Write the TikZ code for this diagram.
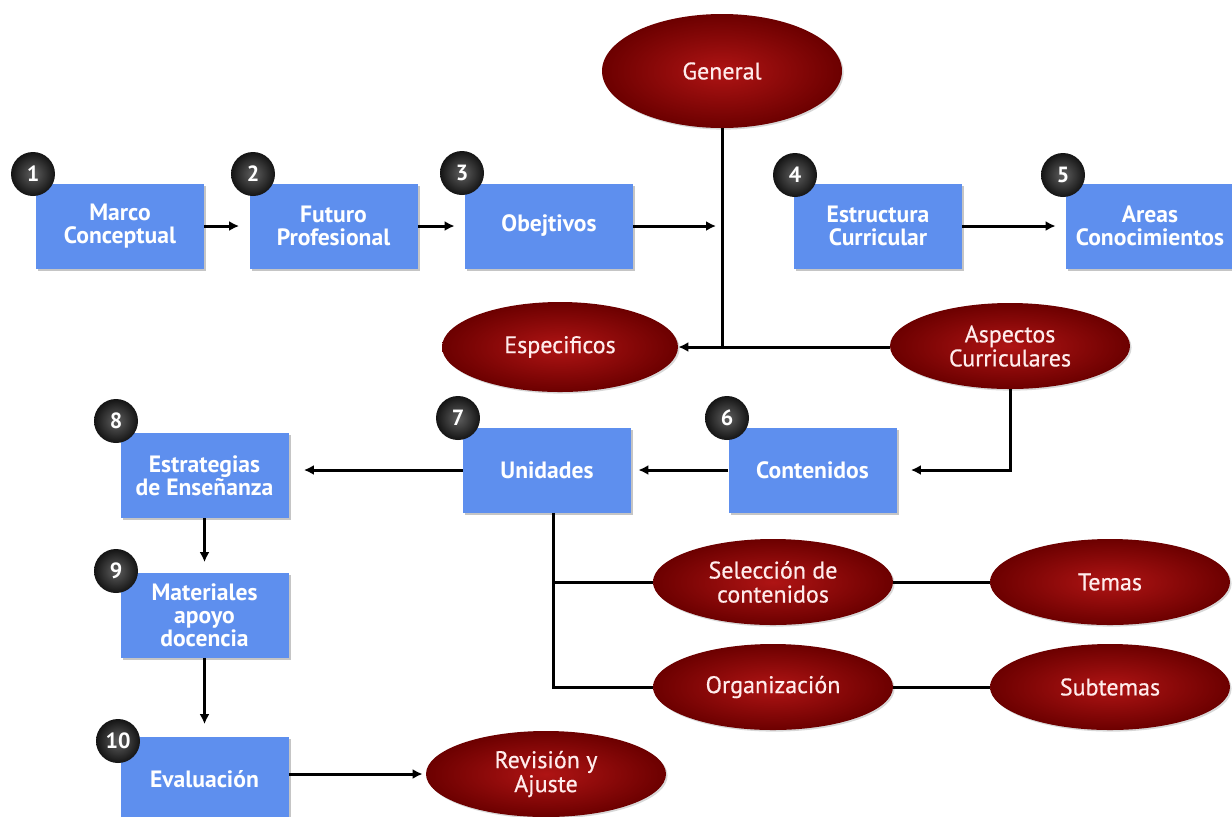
\documentclass[tikz,border=0pt]{standalone}
\usepackage{fontspec}
\setmainfont{PT Sans}
\newfontfamily\ellfont{PT Sans}[FakeBold=0.5]
\usetikzlibrary{shapes.geometric,arrows.meta,shadows}
\definecolor{boxblue}{RGB}{94,143,238}
\definecolor{ellin}{RGB}{175,20,20}
\definecolor{ellout}{RGB}{108,0,0}
\definecolor{badgein}{RGB}{95,95,95}
\definecolor{badgeout}{RGB}{20,20,20}
\definecolor{elltext}{RGB}{255,236,236}
\begin{document}
\begin{tikzpicture}[x=0.5pt,y=-0.5pt,
 bluebox/.style={rectangle, fill=boxblue, minimum width=84pt, minimum height=42.5pt, text=white,
   font=\bfseries\fontsize{11.8}{11.5}\selectfont, align=center, inner sep=1pt,
   drop shadow={shadow xshift=1.2pt, shadow yshift=-1.2pt, opacity=0.45}},
 redell/.style={ellipse, inner color=ellin, outer color=ellout, minimum width=120pt, minimum height=43pt,
   text=elltext, font=\ellfont\fontsize{12}{12}\selectfont, align=center, inner sep=0pt,
   drop shadow={shadow xshift=0.8pt, shadow yshift=-0.8pt, opacity=0.3}},
 badge/.style={circle, inner color=badgein, outer color=badgeout, minimum size=22pt, inner sep=0pt, text=white,
   font=\bfseries\fontsize{11}{11}\selectfont},
 conn/.style={line width=1.5pt, draw=black},
 arr/.style={conn, -{Latex[length=5pt,width=5pt]}}]
\fill[white] (0,0) rectangle (1232,816);
\useasboundingbox (0,0) rectangle (1232,816);

% blue boxes
\node[bluebox] (b1) at (120,226) {Marco\\Conceptual};
\node[bluebox] (b2) at (333.5,226) {Futuro\\Profesional};
\node[bluebox] (b3) at (549,226) {Obejtivos};
\node[bluebox] (b4) at (878,226) {Estructura\\Curricular};
\node[bluebox] (b5) at (1150,226) {Areas\\Conocimientos};
\node[bluebox] (b6) at (812.5,470) {Contenidos};
\node[bluebox] (b7) at (547,470) {Unidades};
\node[bluebox] (b8) at (204.5,475.5) {Estrategias\\de Enseñanza};
\node[bluebox] (b9) at (204.5,615) {Materiales\\apoyo\\docencia};
\node[bluebox] (b10) at (204.5,779) {Evaluación};

% red ellipses
\node[redell, minimum width=120pt, minimum height=57pt] (gen) at (722,71) {General};
\node[redell, minimum width=118pt, minimum height=45pt] (esp) at (560,347) {Especificos};
\node[redell] (asp) at (1010,346) {Aspectos\\Curriculares};
\node[redell] (sel) at (773,582) {Selección de\\contenidos};
\node[redell] (tem) at (1110,582) {Temas};
\node[redell] (org) at (773,687) {Organización};
\node[redell] (sub) at (1110,687) {Subtemas};
\node[redell] (rev) at (546,774) {Revisión y\\Ajuste};

% number badges
\node[badge] (n1) at (33,174) {1};
\node[badge] (n2) at (253,174) {2};
\node[badge] (n3) at (462,173) {3};
\node[badge] (n4) at (795,175) {4};
\node[badge] (n5) at (1063,175) {5};
\node[badge] (n6) at (727,418) {6};
\node[badge] (n7) at (458,418) {7};
\node[badge] (n8) at (116,421) {8};
\node[badge] (n9) at (116,571) {9};
\node[badge] (n10) at (118,741) {10};

% connectors
\coordinate (j1) at (716,226);
\coordinate (t1) at (722,347);
\coordinate (u1) at (553,582);
\coordinate (u2) at (553,687);
\draw[arr, shorten >=5pt] (b1) -- (b2);
\draw[arr, shorten >=5pt] (b2) -- (b3);
\draw[arr] (b3.east) -- (j1);
\draw[conn] (gen.south) -- (t1);
\draw[arr] (asp.west |- t1) -- (esp.east |- t1);
\draw[arr, shorten >=5pt] (b4) -- (b5);
\draw[arr, shorten >=7pt] (asp.south) |- (b6.east);
\draw[arr, shorten >=3.5pt] (b6) -- (b7);
\draw[arr, shorten >=7.5pt] (b7.west) -- (b7.west -| b8.east);
\draw[arr, shorten >=5pt] (b8) -- (b9);
\draw[arr, shorten >=6pt] (b9) -- (b10);
\draw[arr, shorten >=1.5pt] (b10.east |- rev.west) -- (rev.west);
\draw[conn] (b7.south -| u1) -- (u2) -- (org.west);
\draw[conn] (u1) -- (sel.west);
\draw[conn] (sel) -- (tem);
\draw[conn] (org) -- (sub);
\end{tikzpicture}
\end{document}
